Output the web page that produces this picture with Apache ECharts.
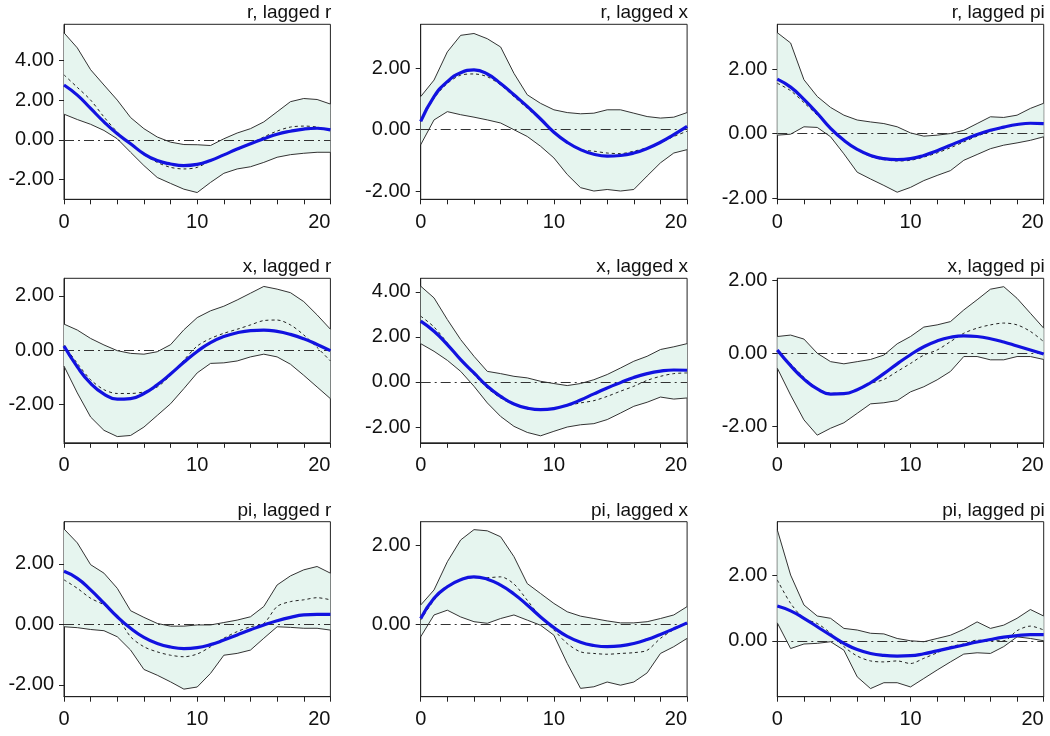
<!DOCTYPE html>
<html>
<head>
<meta charset="utf-8">
<script src="https://cdn.jsdelivr.net/npm/echarts@6/dist/echarts.min.js"></script>
<style>
html,body{margin:0;padding:0;background:#fff;}
#chart{width:1050px;height:736px;}
</style>
</head>
<body>
<div id="chart"></div>
<script>
// ---------- DATA ----------
const lags = [0,1,2,3,4,5,6,7,8,9,10,11,12,13,14,15,16,17,18,19,20];
const xTickLabels = [0, 10, 20];
const panelTitles = ["r, lagged r","r, lagged x","r, lagged pi",
                     "x, lagged r","x, lagged x","x, lagged pi",
                     "pi, lagged r","pi, lagged x","pi, lagged pi"];

// r, lagged r
const rr_blue   = [2.76,2.25,1.58,0.90,0.30,-0.20,-0.71,-1.05,-1.22,-1.30,-1.24,-1.04,-0.76,-0.47,-0.20,0.05,0.28,0.43,0.54,0.58,0.50];
const rr_upper  = [5.39,4.63,3.53,2.76,2.00,1.12,0.56,0.14,-0.12,-0.24,-0.25,-0.29,0.05,0.34,0.56,0.90,1.41,1.92,2.08,2.03,1.80];
const rr_lower  = [1.29,1.02,0.78,0.47,0.05,-0.63,-1.30,-1.90,-2.20,-2.49,-2.66,-2.15,-1.69,-1.47,-1.36,-1.14,-0.88,-0.75,-0.68,-0.63,-0.63];
const rr_dashed = [3.27,2.64,2.00,1.15,0.39,-0.24,-0.75,-1.14,-1.39,-1.47,-1.39,-1.05,-0.75,-0.51,-0.20,0.14,0.44,0.64,0.69,0.64,0.47];
// r, lagged x
const rx_blue   = [0.27,1.08,1.57,1.86,1.95,1.82,1.51,1.14,0.76,0.35,-0.08,-0.41,-0.65,-0.80,-0.86,-0.84,-0.76,-0.61,-0.41,-0.16,0.11];
const rx_upper  = [1.08,1.62,2.54,3.08,3.14,2.97,2.70,1.84,1.14,0.86,0.65,0.56,0.52,0.54,0.65,0.65,0.54,0.43,0.38,0.41,0.56];
const rx_lower  = [-0.49,0.32,0.59,0.49,0.41,0.32,0.22,0.00,-0.22,-0.54,-0.92,-1.46,-1.89,-2.00,-1.95,-2.00,-1.95,-1.51,-1.08,-0.76,-0.65];
const rx_dashed = [0.27,1.03,1.51,1.78,1.82,1.73,1.46,1.08,0.70,0.32,-0.09,-0.43,-0.65,-0.70,-0.76,-0.78,-0.70,-0.59,-0.43,-0.22,-0.05];
// r, lagged pi
const rp_blue   = [1.69,1.44,1.06,0.63,0.16,-0.21,-0.49,-0.68,-0.78,-0.81,-0.78,-0.68,-0.53,-0.36,-0.19,-0.03,0.10,0.20,0.28,0.32,0.31];
const rp_upper  = [3.13,2.81,1.67,1.15,0.81,0.57,0.42,0.36,0.31,0.21,0.02,-0.08,-0.05,0.00,0.10,0.31,0.52,0.50,0.57,0.78,0.94];
const rp_lower  = [-0.05,-0.02,0.21,0.19,-0.10,-0.63,-1.20,-1.41,-1.61,-1.82,-1.67,-1.46,-1.30,-1.15,-0.83,-0.65,-0.47,-0.36,-0.29,-0.21,-0.10];
const rp_dashed = [1.56,1.33,0.96,0.57,0.16,-0.21,-0.50,-0.71,-0.81,-0.85,-0.83,-0.73,-0.60,-0.44,-0.26,-0.08,0.07,0.18,0.26,0.33,0.29];
// x, lagged r
const xr_blue   = [0.15,-0.62,-1.23,-1.62,-1.81,-1.79,-1.60,-1.28,-0.88,-0.45,-0.05,0.28,0.50,0.64,0.72,0.74,0.69,0.58,0.42,0.21,-0.02];
const xr_upper  = [0.96,0.74,0.43,0.19,-0.02,-0.12,-0.15,-0.06,0.20,0.75,1.20,1.45,1.62,1.85,2.10,2.35,2.25,2.12,1.79,1.30,0.77];
const xr_lower  = [-0.59,-1.58,-2.47,-2.96,-3.19,-3.15,-2.84,-2.41,-1.98,-1.42,-0.84,-0.49,-0.47,-0.40,-0.25,-0.15,-0.25,-0.52,-0.93,-1.36,-1.79];
const xr_dashed = [0.19,-0.49,-1.09,-1.46,-1.60,-1.60,-1.54,-1.36,-0.93,-0.37,0.15,0.43,0.62,0.77,0.93,1.09,1.11,0.93,0.56,0.10,-0.40];
// x, lagged x
const xx_blue   = [2.70,2.25,1.66,0.99,0.40,-0.19,-0.64,-0.98,-1.16,-1.23,-1.18,-1.03,-0.80,-0.53,-0.27,-0.03,0.20,0.37,0.48,0.53,0.52];
const xx_upper  = [4.25,3.73,2.77,1.88,1.14,0.47,0.37,0.25,0.18,0.03,-0.07,-0.16,-0.07,0.10,0.33,0.62,0.92,1.14,1.44,1.56,1.70];
const xx_lower  = [1.70,1.36,0.96,0.47,-0.19,-0.93,-1.53,-1.97,-2.24,-2.39,-2.19,-2.00,-1.90,-1.85,-1.67,-1.38,-1.08,-0.90,-0.67,-0.76,-0.71];
const xx_dashed = [2.92,2.44,1.73,0.99,0.33,-0.27,-0.71,-1.01,-1.16,-1.20,-1.16,-1.05,-0.93,-0.83,-0.64,-0.41,-0.19,0.07,0.25,0.37,0.40];
// x, lagged pi
const xp_blue   = [0.09,-0.34,-0.71,-0.98,-1.12,-1.11,-1.00,-0.81,-0.56,-0.29,-0.04,0.18,0.34,0.44,0.48,0.46,0.40,0.31,0.20,0.09,-0.02];
const xp_upper  = [0.46,0.50,0.39,0.00,-0.23,-0.29,-0.23,-0.17,-0.05,0.26,0.46,0.72,0.78,0.87,1.19,1.47,1.76,1.83,1.51,1.10,0.69];
const xp_lower  = [-0.41,-1.15,-1.83,-2.25,-2.06,-1.91,-1.65,-1.39,-1.36,-1.30,-1.06,-0.92,-0.73,-0.50,-0.09,-0.09,-0.18,-0.18,-0.09,-0.09,-0.17];
const xp_dashed = [0.09,-0.29,-0.66,-0.96,-1.10,-1.10,-0.99,-0.83,-0.72,-0.50,-0.28,-0.05,0.09,0.32,0.55,0.69,0.78,0.83,0.78,0.60,0.32];
// pi, lagged r
const pr_blue   = [1.75,1.52,1.14,0.70,0.25,-0.13,-0.43,-0.63,-0.75,-0.80,-0.77,-0.67,-0.52,-0.35,-0.18,-0.02,0.12,0.23,0.31,0.33,0.33];
const pr_upper  = [3.15,2.69,1.97,1.69,1.19,0.45,0.23,0.03,-0.06,-0.06,-0.02,-0.02,0.06,0.14,0.25,0.59,1.30,1.60,1.80,1.91,1.69];
const pr_lower  = [-0.08,-0.11,-0.17,-0.21,-0.41,-0.85,-1.49,-1.68,-1.90,-2.14,-2.07,-1.62,-1.02,-0.96,-0.85,-0.46,-0.08,-0.10,-0.13,-0.13,-0.19];
const pr_dashed = [1.47,1.19,0.86,0.64,0.25,-0.41,-0.74,-0.91,-1.02,-1.07,-0.98,-0.74,-0.46,-0.24,-0.08,0.03,0.59,0.75,0.81,0.88,0.81];
// pi, lagged x
const px_blue   = [0.15,0.66,0.95,1.13,1.20,1.14,0.99,0.77,0.49,0.19,-0.08,-0.30,-0.45,-0.53,-0.56,-0.54,-0.48,-0.38,-0.25,-0.11,0.04];
const px_upper  = [0.49,0.87,1.58,2.13,2.39,2.36,2.21,1.71,1.03,0.78,0.53,0.32,0.21,0.15,0.09,0.04,0.04,0.07,0.15,0.24,0.45];
const px_lower  = [-0.31,0.24,0.36,0.19,0.07,0.03,0.15,0.24,0.11,-0.02,-0.27,-0.98,-1.61,-1.57,-1.45,-1.53,-1.45,-1.22,-0.73,-0.56,-0.35];
const px_dashed = [0.11,0.61,0.95,1.13,1.18,1.18,1.20,1.02,0.61,0.19,-0.14,-0.48,-0.69,-0.73,-0.75,-0.73,-0.71,-0.65,-0.35,-0.13,0.03];
// pi, lagged pi
const pp_blue   = [1.07,0.92,0.69,0.43,0.17,-0.08,-0.27,-0.39,-0.45,-0.47,-0.46,-0.40,-0.31,-0.22,-0.13,-0.04,0.04,0.11,0.16,0.19,0.19];
const pp_upper  = [3.41,2.02,1.10,0.76,0.69,0.38,0.33,0.23,0.21,0.07,0.00,-0.03,0.07,0.17,0.35,0.58,0.38,0.48,0.69,0.96,0.76];
const pp_lower  = [0.55,-0.24,-0.10,-0.08,-0.03,-0.29,-1.11,-1.47,-1.29,-1.29,-1.42,-1.16,-0.90,-0.65,-0.41,-0.37,-0.39,-0.18,0.12,0.07,0.00];
const pp_dashed = [1.87,1.15,0.69,0.53,0.23,-0.18,-0.47,-0.62,-0.65,-0.62,-0.70,-0.54,-0.37,-0.18,-0.10,0.02,0.00,0.00,0.31,0.45,0.33];

// axis ranges and tick labels per panel
const yMins  = [-3.00,-2.27,-2.04,-3.42,-2.70,-2.46,-2.39,-1.82,-1.72];
const yMaxs  = [ 5.82, 3.44, 3.39, 2.65, 4.60, 2.06, 3.39, 2.59, 3.66];
const yTicks = [[-2,0,2,4],[-2,0,2],[-2,0,2],[-2,0,2],[-2,0,2,4],[-2,0,2],[-2,0,2],[0,2],[0,2]];

const blueSets   = [rr_blue,rx_blue,rp_blue,xr_blue,xx_blue,xp_blue,pr_blue,px_blue,pp_blue];
const upperSets  = [rr_upper,rx_upper,rp_upper,xr_upper,xx_upper,xp_upper,pr_upper,px_upper,pp_upper];
const lowerSets  = [rr_lower,rx_lower,rp_lower,xr_lower,xx_lower,xp_lower,pr_lower,px_lower,pp_lower];
const dashedSets = [rr_dashed,rx_dashed,rp_dashed,xr_dashed,xx_dashed,xp_dashed,pr_dashed,px_dashed,pp_dashed];

// ---------- LAYOUT ----------
const colLeft = [64, 420.7, 777.3];
const colWidth = 266.4;
const rowTop = [24.3, 278.3, 521.7];
const rowHeight = [175, 164.5, 175];
const titleTop = [3, 257, 501];
const FONT = "'Liberation Sans', Arial, sans-serif";

const grids = [], xAxes = [], yAxes = [], titles = [], series = [];
for (let i = 0; i < 9; i++) {
  const r = Math.floor(i / 3), c = i % 3;
  grids.push({
    left: colLeft[c], top: rowTop[r], width: colWidth, height: rowHeight[r],
    show: true, borderColor: '#222', borderWidth: 1, backgroundColor: 'transparent',
    containLabel: false
  });
  titles.push({
    text: panelTitles[i],
    right: 1050 - (colLeft[c] + colWidth) - 1,
    top: titleTop[r],
    padding: 0,
    textStyle: { fontSize: 19, fontWeight: 'normal', color: '#111', fontFamily: FONT }
  });
  xAxes.push({
    type: 'value', gridIndex: i, min: 0, max: 20, interval: 2,
    axisLine: { show: true, onZero: false, lineStyle: { color: '#222', width: 1 } },
    axisTick: { show: true, inside: false, length: 5, lineStyle: { color: '#222' } },
    axisLabel: {
      show: true, fontSize: 20, color: '#111', fontFamily: FONT, margin: 13,
      customValues: xTickLabels, alignMaxLabel: 'right',
      formatter: v => String(v)
    },
    splitLine: { show: false }
  });
  yAxes.push({
    type: 'value', gridIndex: i, min: yMins[i], max: yMaxs[i],
    axisLine: { show: true, onZero: false, lineStyle: { color: '#222', width: 1 } },
    axisTick: { show: true, inside: false, length: 5, customValues: yTicks[i], lineStyle: { color: '#222' } },
    axisLabel: {
      show: true, fontSize: 20, color: '#111', fontFamily: FONT, margin: 10,
      customValues: yTicks[i], formatter: v => Number(v).toFixed(2),
      showMinLabel: true, showMaxLabel: true
    },
    splitLine: { show: false }
  });

  const lo = lowerSets[i], hi = upperSets[i];
  // confidence band as one polygon, positioned through the axes
  series.push({
    type: 'custom', xAxisIndex: i, yAxisIndex: i, silent: true, z: 1,
    data: [[lags[0], lo[0]]],
    encode: { x: 0, y: 1 },
    renderItem: function (params, api) {
      const pts = [];
      for (let k = 0; k < lags.length; k++) pts.push(api.coord([lags[k], hi[k]]));
      for (let k = lags.length - 1; k >= 0; k--) pts.push(api.coord([lags[k], lo[k]]));
      return { type: 'polygon', shape: { points: pts }, style: { fill: '#e6f5ef', stroke: null } };
    }
  });
  // upper / lower edges
  series.push({
    type: 'line', xAxisIndex: i, yAxisIndex: i, data: lags.map((x, k) => [x, hi[k]]),
    symbol: 'none', silent: true, lineStyle: { color: '#333', width: 1 }, z: 3
  });
  series.push({
    type: 'line', xAxisIndex: i, yAxisIndex: i, data: lags.map((x, k) => [x, lo[k]]),
    symbol: 'none', silent: true, lineStyle: { color: '#333', width: 1 }, z: 3,
    markLine: {
      silent: true, symbol: ['none', 'none'], label: { show: false },
      lineStyle: { color: '#333', width: 1, type: [10, 4, 2, 4] },
      data: [{ yAxis: 0 }], z: 2
    }
  });
  // dashed estimate
  series.push({
    type: 'line', xAxisIndex: i, yAxisIndex: i, data: lags.map((x, k) => [x, dashedSets[i][k]]),
    symbol: 'none', silent: true, smooth: 0.3,
    lineStyle: { color: '#222', width: 1, type: [3, 3] }, z: 4
  });
  // blue line
  series.push({
    type: 'line', xAxisIndex: i, yAxisIndex: i, data: lags.map((x, k) => [x, blueSets[i][k]]),
    symbol: 'none', silent: true, smooth: 0.5,
    lineStyle: { color: '#1212e0', width: 3.2 }, z: 5
  });
}

const chart = echarts.init(document.getElementById('chart'), null, { renderer: 'canvas' });
chart.setOption({
  animation: false,
  backgroundColor: '#fff',
  title: titles,
  grid: grids,
  xAxis: xAxes,
  yAxis: yAxes,
  series: series
});
</script>
</body>
</html>
